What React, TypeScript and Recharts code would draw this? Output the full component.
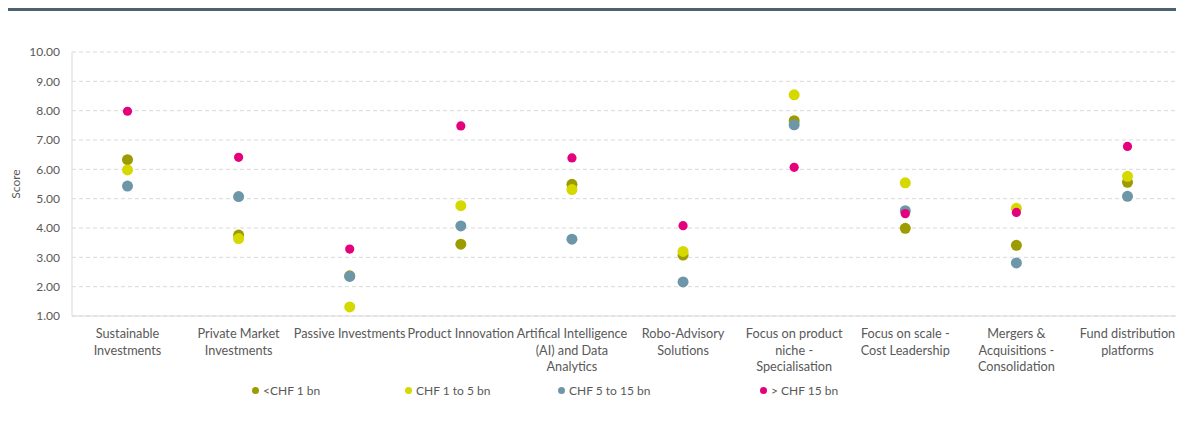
import React from 'react';
import { ComposedChart, Line, XAxis, YAxis, CartesianGrid, Legend, Label } from 'recharts';

const categories = [
  'Sustainable\nInvestments',
  'Private Market\nInvestments',
  'Passive Investments',
  'Product Innovation',
  'Artifical Intelligence\n(AI) and Data\nAnalytics',
  'Robo-Advisory\nSolutions',
  'Focus on product\nniche -\nSpecialisation',
  'Focus on scale -\nCost Leadership',
  'Mergers &\nAcquisitions -\nConsolidation',
  'Fund distribution\nplatforms',
];

const under1bn = [6.33, 3.76, 2.37, 3.45, 5.49, 3.08, 7.66, 3.99, 3.41, 5.56];
const from1to5bn = [5.98, 3.64, 1.31, 4.76, 5.31, 3.2, 8.54, 5.54, 4.67, 5.76];
const from5to15bn = [5.43, 5.07, 2.35, 4.07, 3.62, 2.16, 7.52, 4.59, 2.81, 5.08];
const over15bn = [7.98, 6.41, 3.28, 7.48, 6.39, 4.08, 6.07, 4.49, 4.53, 6.78];

const yTicks = [1, 2, 3, 4, 5, 6, 7, 8, 9, 10];

const series = [
  { key: 'a', name: '<CHF 1 bn', color: '#9c9c00', r: 5.5, values: under1bn },
  { key: 'b', name: 'CHF 1 to 5 bn', color: '#d5d900', r: 5.5, values: from1to5bn },
  { key: 'c', name: 'CHF 5 to 15 bn', color: '#6d97a8', r: 5.5, values: from5to15bn },
  { key: 'd', name: '> CHF 15 bn', color: '#e5007d', r: 4.6, values: over15bn },
];

const data = categories.map((name, i) => {
  const row: any = { name };
  series.forEach((s) => (row[s.key] = s.values[i]));
  return row;
});

const FONT = 'Lato, "Open Sans", sans-serif';
const TEXT = '#595959';

function CategoryTick({ x, y, payload }: any) {
  const lines = String(payload.value).split('\n');
  return (
    <text x={x} y={y} textAnchor="middle" fill={TEXT} fontSize={12.7} fontFamily={FONT}>
      {lines.map((l, i) => (
        <tspan key={i} x={x} dy={i === 0 ? 14 : 16.5}>
          {l}
        </tspan>
      ))}
    </text>
  );
}

const legendLefts = [244, 397, 550, 752];

function LegendContent() {
  return (
    <div style={{ position: 'relative', height: 20, fontFamily: FONT, fontSize: 12, color: TEXT }}>
      {series.map((s, i) => (
        <div key={s.key} style={{ position: 'absolute', left: legendLefts[i], top: 2, display: 'flex', alignItems: 'center', whiteSpace: 'nowrap' }}>
          <span style={{ width: 7, height: 7, borderRadius: '50%', background: s.color, display: 'inline-block', marginRight: 4 }} />
          {s.name}
        </div>
      ))}
    </div>
  );
}

export default function App() {
  return (
    <div style={{ borderTop: '3px solid #4b6272', width: 1176 }}>
      <ComposedChart width={1176} height={407} data={data} margin={{ top: 41, right: 1, bottom: 17, left: 0 }}>
        <CartesianGrid vertical={false} stroke="#d9d9d9" strokeDasharray="4 3" />
        <XAxis
          dataKey="name"
          tick={<CategoryTick />}
          tickLine={false}
          axisLine={{ stroke: '#d9d9d9' }}
          height={65}
          interval={0}
          padding={{ left: 55.5, right: 55.5 }}
        />
        <YAxis
          type="number"
          domain={[1, 10]}
          ticks={yTicks}
          tickFormatter={(v: number) => v.toFixed(2)}
          tick={{ fill: TEXT, fontSize: 12, fontFamily: FONT }}
          tickLine={false}
          tickSize={6}
          tickMargin={6}
          axisLine={{ stroke: '#d9d9d9' }}
          width={64}
        >
          <Label value="Score" angle={-90} position="insideLeft" offset={8} style={{ fill: TEXT, fontSize: 12, fontFamily: FONT, textAnchor: 'middle' }} />
        </YAxis>
        <Legend verticalAlign="bottom" height={20} content={<LegendContent />} />
        {series.map((s) => (
          <Line
            key={s.key}
            dataKey={s.key}
            name={s.name}
            stroke="none"
            isAnimationActive={false}
            activeDot={false}
            dot={(p: any) => <circle key={p.index} cx={p.cx} cy={p.cy} r={s.r} fill={s.color} />}
          />
        ))}
      </ComposedChart>
    </div>
  );
}
